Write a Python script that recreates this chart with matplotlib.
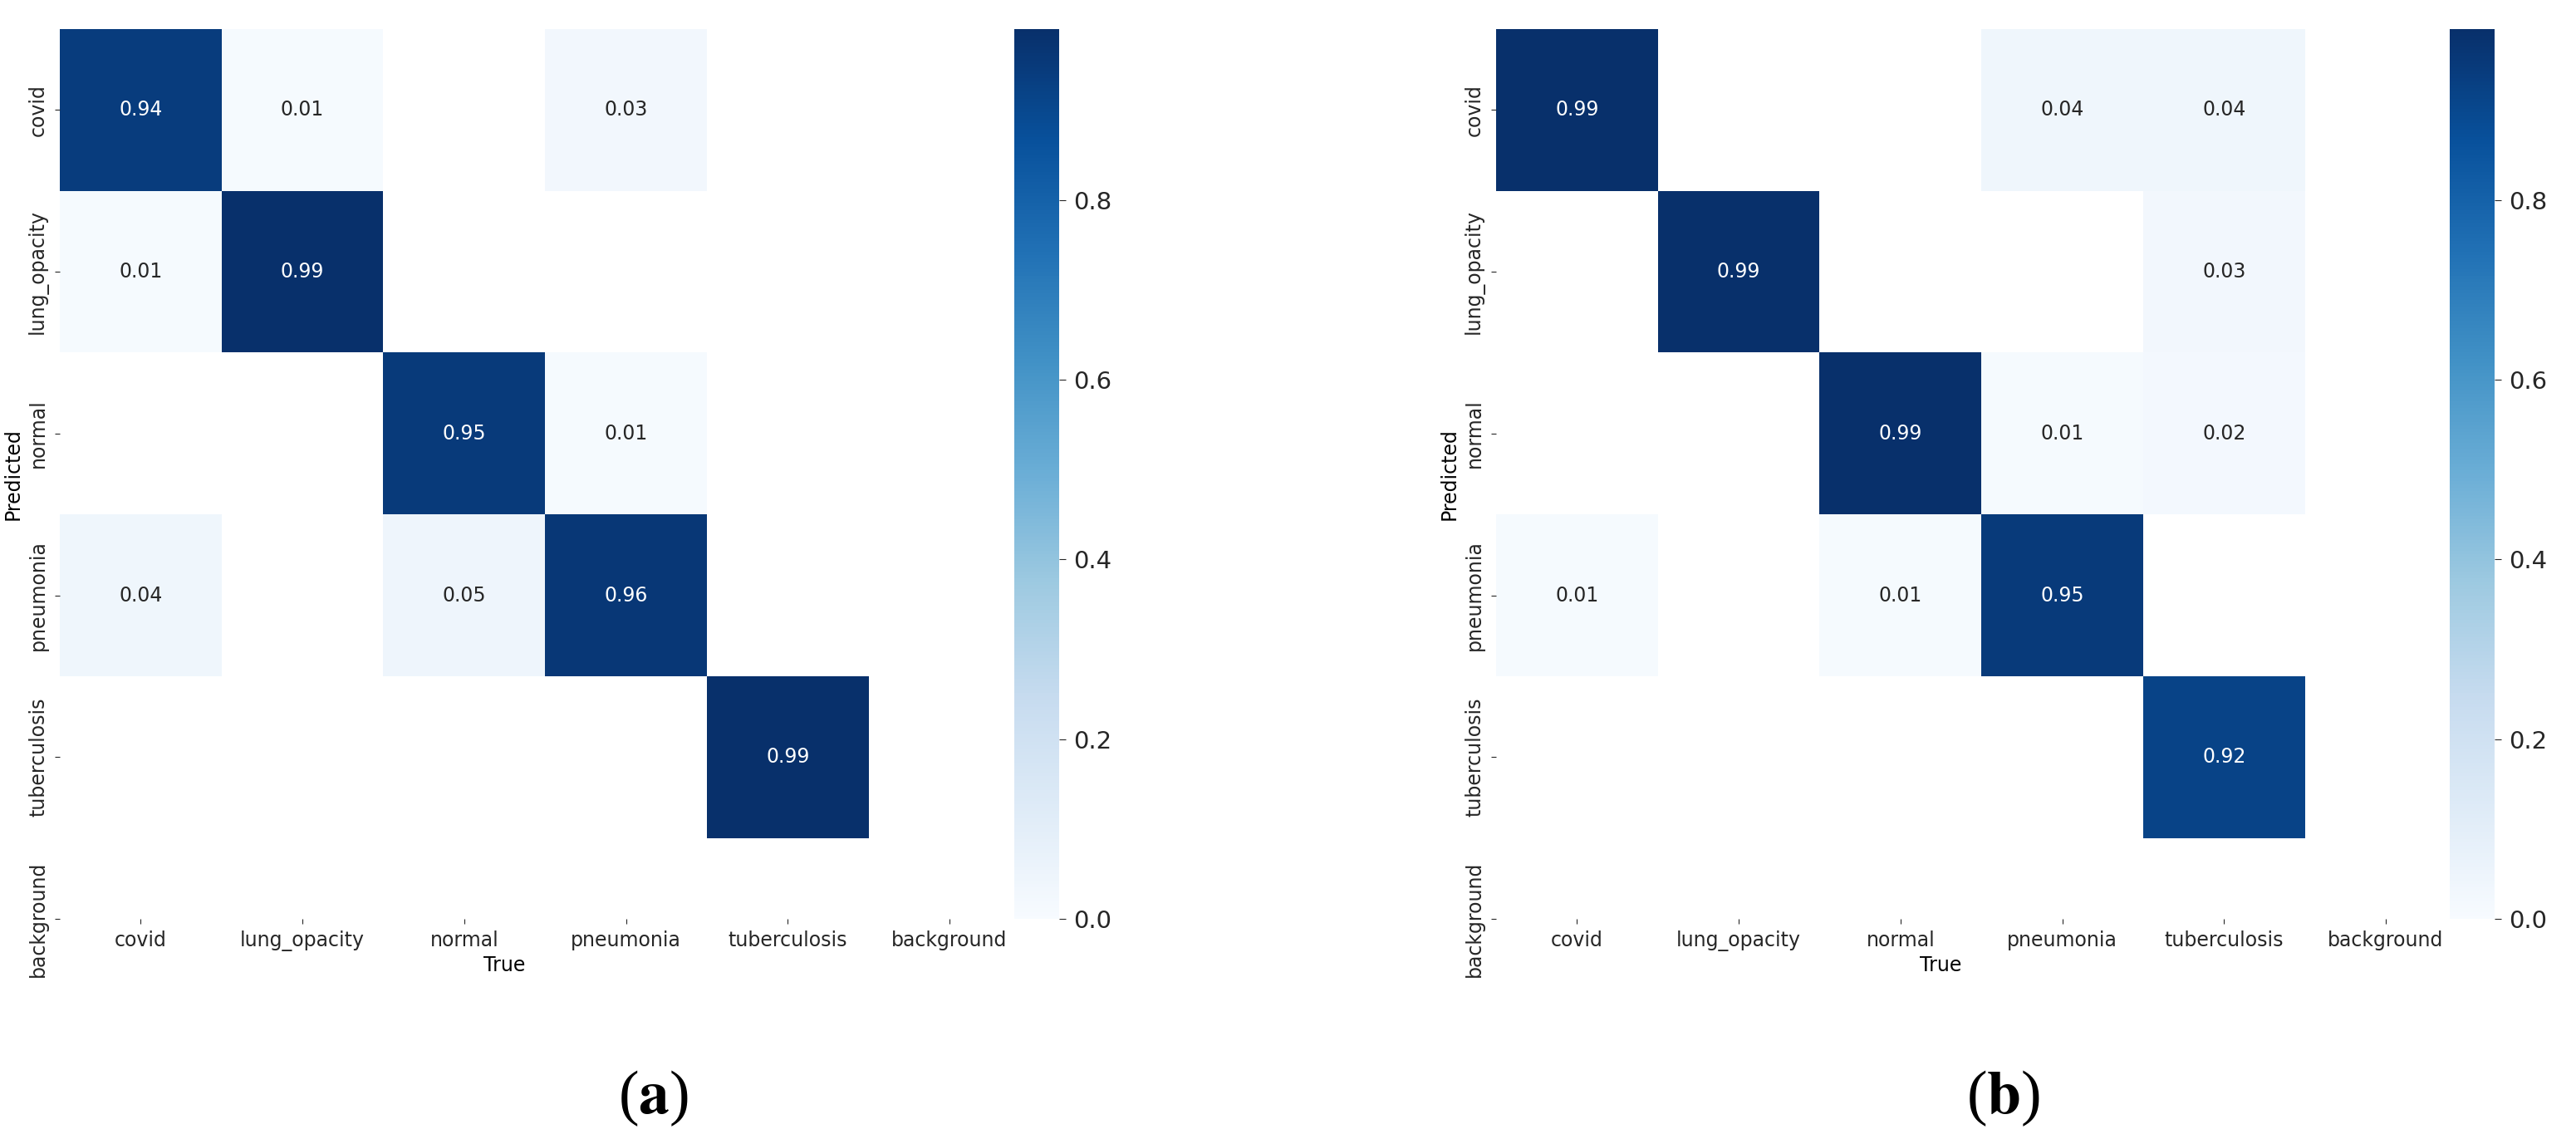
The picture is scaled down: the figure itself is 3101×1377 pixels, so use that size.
import numpy as np
import matplotlib
matplotlib.use("Agg")
import matplotlib.pyplot as plt
import seaborn as sns

labels = ["covid", "lung_opacity", "normal", "pneumonia", "tuberculosis", "background"]

# rows = Predicted, columns = True (nan = empty cell)
nan = np.nan
cm_a = np.array([
    [0.94, 0.01, nan, 0.03, nan, nan],
    [0.01, 0.99, nan, nan, nan, nan],
    [nan, nan, 0.95, 0.01, nan, nan],
    [0.04, nan, 0.05, 0.96, nan, nan],
    [nan, nan, nan, nan, 0.99, nan],
    [nan, nan, nan, nan, nan, nan],
])
cm_b = np.array([
    [0.99, nan, nan, 0.04, 0.04, nan],
    [nan, 0.99, nan, nan, 0.03, nan],
    [nan, nan, 0.99, 0.01, 0.02, nan],
    [0.01, nan, 0.01, 0.95, nan, nan],
    [nan, nan, nan, nan, 0.92, nan],
    [nan, nan, nan, nan, nan, nan],
])
captions = ["a", "b"]

W, H = 3101, 1377
fig = plt.figure(figsize=(W / 100, H / 100), dpi=100)
plt.rcParams["mathtext.fontset"] = "stix"

txt = "#262626"


def px(x0, y_top, w, h):
    return [x0 / W, 1 - (y_top + h) / H, w / W, h / H]


panels = [
    (cm_a, 72, 1221, 786),
    (cm_b, 1801, 2949, 2411),
]

for (cm, ax_x, cb_x, cap_x), cap in zip(panels, captions):
    ax = fig.add_axes(px(ax_x, 35, 1071, 1071))
    cax = fig.add_axes(px(cb_x, 35, 54, 1071))
    sns.heatmap(cm, ax=ax, cbar_ax=cax, annot=True, fmt=".2f", cmap="Blues",
                vmin=0.0, annot_kws={"size": 17},
                xticklabels=labels, yticklabels=labels)
    ax.set_facecolor((1, 1, 1))
    ax.set_xlim(0, 5.5)
    ax.set_ylim(5.5, 0)
    ax.set_xticklabels(labels, rotation=0, fontsize=17, color=txt)
    ax.set_yticklabels(labels, rotation=90, va="center", fontsize=17, color=txt)
    ax.tick_params(length=4, width=0.8, pad=6, colors=txt, labelcolor=txt)
    ax.set_xlabel("True", fontsize=17, color="black", labelpad=4)
    ax.set_ylabel("Predicted", fontsize=17, color="black", labelpad=4)
    cax.tick_params(labelsize=21, length=6, width=0.8, pad=6, colors=txt)
    cax.set_yticks([0.0, 0.2, 0.4, 0.6, 0.8])
    cax.set_yticklabels(["0.0", "0.2", "0.4", "0.6", "0.8"])

    fig.text(cap_x / W, 1 - 1322 / H, r"($\mathbf{" + cap + r"}$)",
             ha="center", va="center", fontsize=53,
             family="Liberation Serif", color="black")

fig.savefig("out.png", dpi=100)
